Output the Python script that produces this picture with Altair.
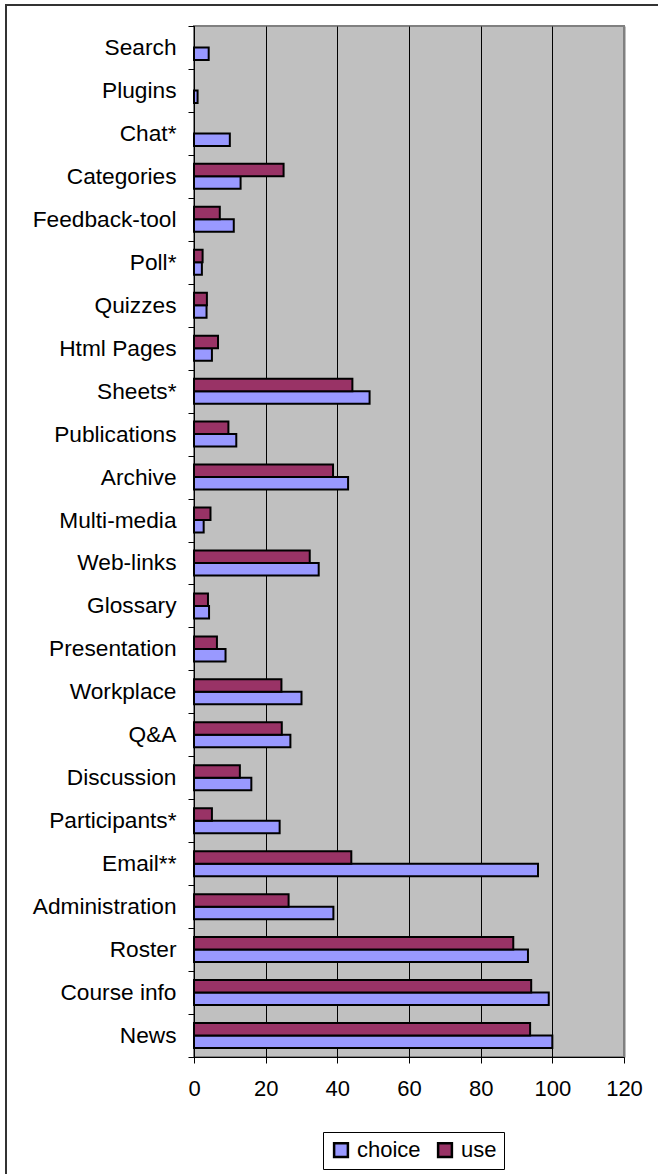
import altair as alt
import pandas as pd

categories = ["Search", "Plugins", "Chat*", "Categories", "Feedback-tool", "Poll*",
              "Quizzes", "Html Pages", "Sheets*", "Publications", "Archive",
              "Multi-media", "Web-links", "Glossary", "Presentation", "Workplace",
              "Q&A", "Discussion", "Participants*", "Email**", "Administration",
              "Roster", "Course info", "News"]
choice = [4.1, 1.0, 10.0, 13.0, 11.1, 2.2, 3.5, 5.0, 49.0, 11.8, 43.0, 2.7,
          34.8, 4.2, 8.8, 30.0, 26.9, 16.0, 23.9, 96.0, 38.9, 93.2, 99.0, 100.0]
use = [0, 0, 0, 25.0, 7.2, 2.4, 3.6, 6.7, 44.2, 9.6, 38.8, 4.6,
       32.3, 3.9, 6.4, 24.4, 24.5, 12.8, 5.0, 43.9, 26.4, 89.1, 94.1, 93.8]
series_names = ["choice", "use"]
series_colors = ["#9999ff", "#993366"]
x_ticks = [0, 20, 40, 60, 80, 100, 120]

rows = []
for c, ch, u in zip(categories, choice, use):
    rows.append({"category": c, "series": "choice", "value": ch})
    rows.append({"category": c, "series": "use", "value": u})
df = pd.DataFrame(rows)
df = df[df["value"] > 0]

FONT = "Liberation Sans"

bars = alt.Chart(df).mark_bar(stroke="black", strokeWidth=2).encode(
    x=alt.X("value:Q",
            scale=alt.Scale(domain=[0, 120], nice=False, zero=True),
            axis=alt.Axis(values=x_ticks, title=None, grid=True,
                          gridColor={"condition": {"test": "datum.value === 120", "value": "#808080"}, "value": "black"},
                          gridWidth={"condition": {"test": "datum.value === 120", "value": 2}, "value": 1},
                          gridOpacity=1,
                          domainColor="black", domainWidth=1,
                          tickColor="black", tickSize=6, tickWidth=1,
                          labelFont=FONT, labelFontSize=22, labelColor="black",
                          labelPadding=15, labelFlush=False)),
    y=alt.Y("category:N", sort=categories,
            scale=alt.Scale(paddingInner=0, paddingOuter=0),
            axis=alt.Axis(title=None, tickBand="extent",
                          domainColor="black", domainWidth=1,
                          tickColor="black", tickSize=6, tickWidth=1,
                          labelFont=FONT, labelFontSize=22.7, labelColor="black",
                          labelPadding=12, labelLimit=400)),
    yOffset=alt.YOffset("series:N", sort=["use", "choice"],
                        scale=alt.Scale(paddingInner=0, paddingOuter=0.72)),
    color=alt.Color("series:N",
                    scale=alt.Scale(domain=series_names, range=series_colors),
                    legend=alt.Legend(title=None, orient="none", legendX=129, legendY=1106,
                                      direction="horizontal", symbolType="square",
                                      symbolSize=190, symbolStrokeColor="black",
                                      symbolStrokeWidth=2.5, symbolOpacity=1,
                                      labelFont=FONT, labelFontSize=22, labelColor="black",
                                      labelOffset=5, columnPadding=12, padding=7,
                                      strokeColor="black", fillColor="white")),
)

border = alt.Chart(alt.Data(values=[{"k": 1}])).mark_rect(
    fill=None, stroke="#333333", strokeWidth=2
).encode(
    x=alt.value(-188), x2=alt.value(480),
    y=alt.value(-21), y2=alt.value(1170),
)

chart = alt.layer(bars, border).properties(
    width=430, height=1031,
    autosize=alt.AutoSizeParams(type="none"),
    padding={"left": 194, "top": 26, "right": 34, "bottom": 117},
    background="white",
).configure_view(
    fill="#c0c0c0", stroke="#808080", strokeWidth=2
)

chart.save("out.html", embed_options={"renderer": "svg", "actions": False})
